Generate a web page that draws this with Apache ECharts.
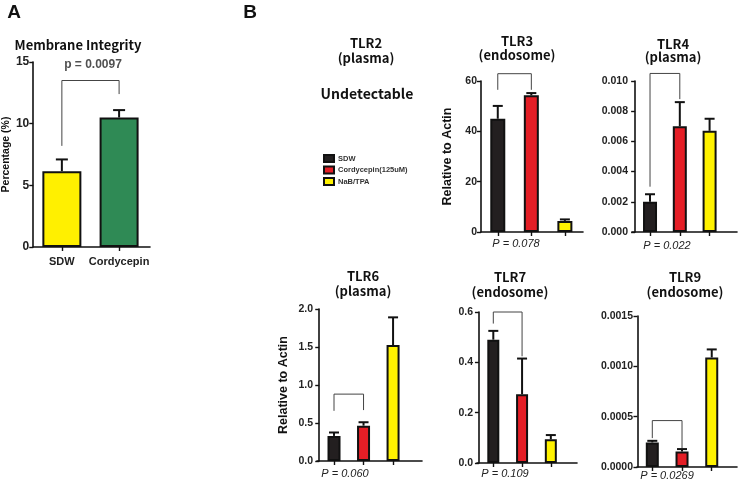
<!DOCTYPE html>
<html>
<head>
<meta charset="utf-8">
<script src="https://cdn.jsdelivr.net/npm/echarts@6/dist/echarts.min.js"></script>
<style>html,body{margin:0;padding:0;background:#fff;}#c{width:740px;height:482px;}</style>
</head>
<body>
<div id="c"></div>
<script>
// ---------- DATA ----------
const aCategories = ['SDW', 'Cordycepin'];
const aValues = [6.15, 10.5];
const aErrors = [0.95, 0.6];
const aTicks = ['0', '5', '10', '15'];
const aBracket = [13.5, 8.2, 12.4];       // top, left leg end, right leg end
const aPLabel = 'p = 0.0097';

const groups = ['SDW', 'Cordycepin(125uM)', 'NaB/TPA'];

const tlr3Values = [45.0, 54.3, 4.4];
const tlr3Errors = [5.1, 0.9, 0.6];
const tlr3Ticks = ['0', '20', '40', '60'];
const tlr3Bracket = [62.9, 56.5, 56.5];
const tlr3P = 'P = 0.078';

const tlr4Values = [0.0020, 0.0070, 0.0067];
const tlr4Errors = [0.0005, 0.0016, 0.0008];
const tlr4Ticks = ['0.000', '0.002', '0.004', '0.006', '0.008', '0.010'];
const tlr4Bracket = [0.0105, 0.0030, 0.0088];
const tlr4P = 'P = 0.022';

const tlr6Values = [0.33, 0.465, 1.525];
const tlr6Errors = [0.045, 0.045, 0.365];
const tlr6Ticks = ['0.0', '0.5', '1.0', '1.5', '2.0'];
const tlr6Bracket = [0.88, 0.66, 0.67];
const tlr6P = 'P = 0.060';

const tlr7Values = [0.49, 0.273, 0.094];
const tlr7Errors = [0.035, 0.142, 0.017];
const tlr7Ticks = ['0.0', '0.2', '0.4', '0.6'];
const tlr7Bracket = [0.6, 0.554, 0.424];
const tlr7P = 'P = 0.109';

const tlr9Values = [0.000244, 0.000154, 0.001088];
const tlr9Errors = [0.000016, 0.000024, 0.00008];
const tlr9Ticks = ['0.0000', '0.0005', '0.0010', '0.0015'];
const tlr9Bracket = [0.000461, 0.000287, 0.000188];
const tlr9P = 'P = 0.0269';

// ---------- STYLE / LAYOUT ----------
const groupColors = ['#231f20', '#e41e26', '#fff200'];
const aColors = ['#fff000', '#2f8a55'];
const NUM = 'Liberation Sans, Arial, sans-serif';
const KR = '"Noto Sans CJK KR", "Noto Sans", sans-serif';

const panels = [
  { name: 'A', values: aValues, errors: aErrors, ticks: aTicks, bracket: aBracket, colors: aColors,
    left: 32, top: 62, width: 118, height: 185, xMin: 0, xMax: 2.04, barW: 39, cap: 6, labelSize: 12,
    yName: 'Percentage (%)', yNameGap: 21, yNameSize: 10.5, yNameWeight: 'bold', cats: aCategories },
  { name: 'TLR3', values: tlr3Values, errors: tlr3Errors, ticks: tlr3Ticks, bracket: tlr3Bracket, colors: groupColors,
    left: 481, top: 81, width: 102, height: 151, xMin: 0, xMax: 3.04, barW: 15, cap: 5, labelSize: 10.5,
    yName: 'Relative to Actin', yNameGap: 27, yNameSize: 12.5, yNameWeight: 'bold' },
  { name: 'TLR4', values: tlr4Values, errors: tlr4Errors, ticks: tlr4Ticks, bracket: tlr4Bracket, colors: groupColors,
    left: 632, top: 81, width: 105, height: 151, xMin: -0.105, xMax: 3.42, barW: 14, cap: 5, labelSize: 10.5 },
  { name: 'TLR6', values: tlr6Values, errors: tlr6Errors, ticks: tlr6Ticks, bracket: tlr6Bracket, colors: groupColors,
    left: 317, top: 309, width: 105, height: 152, xMin: -0.076, xMax: 3.48, barW: 13, cap: 5, labelSize: 10.5,
    yName: 'Relative to Actin', yNameGap: 27, yNameSize: 12.5, yNameWeight: 'bold' },
  { name: 'TLR7', values: tlr7Values, errors: tlr7Errors, ticks: tlr7Ticks, bracket: tlr7Bracket, colors: groupColors,
    left: 477, top: 312, width: 100, height: 151, xMin: -0.067, xMax: 3.41, barW: 12, cap: 5, labelSize: 10.5 },
  { name: 'TLR9', values: tlr9Values, errors: tlr9Errors, ticks: tlr9Ticks, bracket: tlr9Bracket, colors: groupColors,
    left: 637, top: 316, width: 100, height: 151, xMin: -0.015, xMax: 3.35, barW: 13, cap: 5, labelSize: 10.5 }
];

const grid = [], xAxis = [], yAxis = [], series = [];

function errRender(cap) {
  return function (params, api) {
    const x = api.value(0), v = api.value(1), e = api.value(2);
    const p0 = api.coord([x, v]);
    const p1 = api.coord([x, v + e]);
    return { type: 'group', children: [
      { type: 'line', shape: { x1: p0[0], y1: p0[1], x2: p1[0], y2: p1[1] }, style: { stroke: '#111', lineWidth: 2 } },
      { type: 'line', shape: { x1: p1[0] - cap, y1: p1[1], x2: p1[0] + cap, y2: p1[1] }, style: { stroke: '#111', lineWidth: 2 } }
    ]};
  };
}
function bracketRender(params, api) {
  const x1 = api.value(0), x2 = api.value(1), t = api.value(2), l = api.value(3), r = api.value(4);
  const a = api.coord([x1, l]), b = api.coord([x1, t]), c = api.coord([x2, t]), d = api.coord([x2, r]);
  return { type: 'polyline', shape: { points: [a, b, c, d] }, style: { stroke: '#444', lineWidth: 1, fill: null } };
}

panels.forEach((p, k) => {
  const pos = p.values.map((_, i) => i + 0.5);
  grid.push({ left: p.left, top: p.top, width: p.width, height: p.height });
  xAxis.push({
    type: 'value', gridIndex: k, min: p.xMin, max: p.xMax,
    axisLine: { show: true, onZero: false, lineStyle: { color: '#111', width: 1.6 } },
    axisTick: { show: true, customValues: pos, length: 4, lineStyle: { color: '#111', width: 1.4 } },
    axisLabel: p.cats ? { show: true, customValues: pos, margin: 9,
        formatter: v => p.cats[Math.round(v - 0.5)], color: '#222', fontSize: 11, fontWeight: 'bold', fontFamily: NUM }
      : { show: false },
    splitLine: { show: false }
  });
  const tickNums = p.ticks.map(Number);
  const dec = (p.ticks[1].split('.')[1] || '').length;
  yAxis.push({
    type: 'value', gridIndex: k, min: tickNums[0], max: tickNums[tickNums.length - 1],
    interval: tickNums[1] - tickNums[0],
    axisLine: { show: true, lineStyle: { color: '#111', width: 1.6 } },
    axisTick: { show: true, length: 4, lineStyle: { color: '#111', width: 1.4 } },
    axisLabel: { color: '#222', fontSize: p.labelSize, fontWeight: 'bold', fontFamily: NUM, margin: 4,
      formatter: v => v.toFixed(dec) },
    splitLine: { show: false },
    name: p.yName || '', nameLocation: 'middle', nameGap: p.yNameGap || 0, nameRotate: 90,
    nameTextStyle: { color: '#111', fontSize: p.yNameSize || 12, fontWeight: p.yNameWeight || 'bold', fontFamily: NUM }
  });
  if (p.cats) {
    series.push({
      type: 'bar', xAxisIndex: k, yAxisIndex: k, barWidth: p.barW, barGap: '-100%',
      data: p.values.map((v, i) => ({ value: [pos[i], v], itemStyle: { color: p.colors[i] } })),
      itemStyle: { borderColor: '#111', borderWidth: 2 }, silent: true
    });
  } else {
    p.values.forEach((v, i) => {
      series.push({
        name: groups[i], type: 'bar', xAxisIndex: k, yAxisIndex: k, barWidth: p.barW, barGap: '-100%',
        data: [[pos[i], v]],
        itemStyle: { color: p.colors[i], borderColor: '#111', borderWidth: 2 }, silent: true
      });
    });
  }
  series.push({
    type: 'custom', xAxisIndex: k, yAxisIndex: k, renderItem: errRender(p.cap), clip: false, z: 5,
    encode: { x: 0, y: 1 }, silent: true,
    data: p.values.map((v, i) => [pos[i], v, p.errors[i]])
  });
  series.push({
    type: 'custom', xAxisIndex: k, yAxisIndex: k, renderItem: bracketRender, clip: false, z: 4,
    encode: { x: [0, 1], y: [2, 3, 4] }, silent: true,
    data: [[pos[0], pos[1], p.bracket[0], p.bracket[1], p.bracket[2]]]
  });
});

function txt(text, x, y, font, fill, align) {
  return { type: 'text', x: x, y: y, silent: true,
    style: { text: text, font: font, fill: fill || '#111', align: align || 'center', verticalAlign: 'middle' } };
}
const titleFont = 'bold 13px ' + KR;
const graphics = [
  txt('A', 14, 13, 'bold 19px ' + NUM, '#111'),
  txt('B', 250, 13, 'bold 19px ' + NUM, '#111'),
  txt('Membrane Integrity', 78, 45, 'bold 13px ' + KR),
  txt(aPLabel, 93, 65, 'bold 12px ' + NUM, '#505050'),
  txt('TLR2', 366, 43, titleFont), txt('(plasma)', 366, 58, titleFont),
  txt('Undetectable', 367, 94, 'bold 14px ' + KR),
  txt('TLR3', 517, 41, titleFont), txt('(endosome)', 517, 55, titleFont),
  txt('TLR4', 673, 44, titleFont), txt('(plasma)', 673, 57.5, titleFont),
  txt('TLR6', 363, 276, titleFont), txt('(plasma)', 363, 291, titleFont),
  txt('TLR7', 510, 277, titleFont), txt('(endosome)', 510, 292, titleFont),
  txt('TLR9', 685, 277, titleFont), txt('(endosome)', 685, 292, titleFont),
  txt(tlr3P, 516, 244, 'italic 11px ' + NUM, '#222'),
  txt(tlr4P, 667, 246, 'italic 11px ' + NUM, '#222'),
  txt(tlr6P, 345, 474, 'italic 11px ' + NUM, '#222'),
  txt(tlr7P, 505, 474, 'italic 11px ' + NUM, '#222'),
  txt(tlr9P, 667, 476, 'italic 11px ' + NUM, '#222')
];

const chart = echarts.init(document.getElementById('c'), null, { renderer: 'canvas' });
chart.setOption({
  animation: false,
  backgroundColor: '#fff',
  grid: grid, xAxis: xAxis, yAxis: yAxis, series: series,
  legend: {
    data: groups, orient: 'vertical', left: 318, top: 149, itemWidth: 10, itemHeight: 7, itemGap: 2.5,
    selectedMode: false, icon: 'rect',
    textStyle: { fontSize: 7.5, fontWeight: 'bold', color: '#333', fontFamily: NUM, padding: [0, 0, 0, -1] }
  },
  graphic: graphics
});
</script>
</body>
</html>
